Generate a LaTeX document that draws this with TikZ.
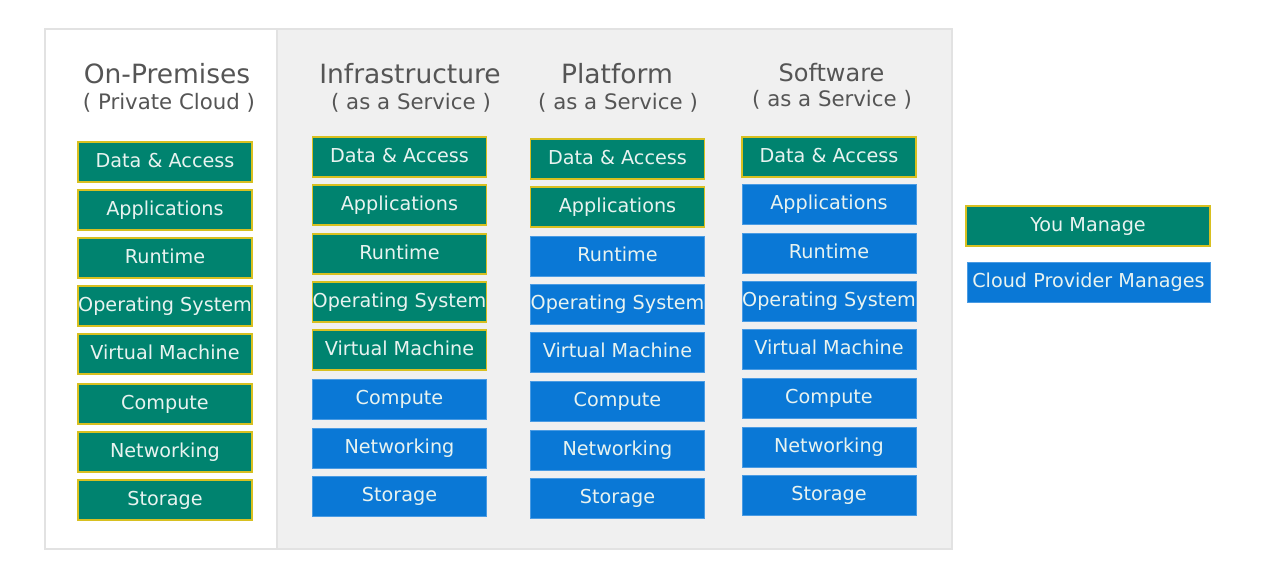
\documentclass[tikz,border=0pt]{standalone}
\usepackage{fontspec}
\setmainfont{DejaVu Sans}
\definecolor{mgreen}{HTML}{00836F}
\definecolor{mgold}{HTML}{D8C020}
\definecolor{mblue}{HTML}{0A78D6}
\definecolor{mblueedge}{HTML}{4A9BE3}
\definecolor{ptext}{HTML}{E8F3F0}
\definecolor{ttext}{HTML}{555555}
\definecolor{panelgray}{HTML}{F0F0F0}
\definecolor{paneledge}{HTML}{E2E2E2}
\begin{document}
\begin{tikzpicture}[x=1pt,y=-1pt,
  layer/.style={minimum width=174pt, minimum height=40pt, inner sep=0pt,
    font=\fontsize{19.2}{22}\selectfont, text=ptext, text height=14pt, text depth=4pt},
  you/.style={layer, fill=mgreen, draw=mgold, line width=1.2pt},
  prov/.style={layer, fill=mblue, draw=mblueedge, line width=0.8pt},
  title/.style={font=\fontsize{26.5}{30}\selectfont, text=ttext, inner sep=0pt, anchor=base},
  subtitle/.style={font=\fontsize{21.3}{25}\selectfont, text=ttext, inner sep=0pt, anchor=base}]

% canvas
\useasboundingbox[fill=white] (0,0) rectangle (1286,584);

% panels
\draw[paneledge, line width=1.5pt, fill=white] (45,29) rectangle (277,549);
\draw[paneledge, line width=1.5pt, fill=panelgray] (277,29) rectangle (952,549);

% headings
\node[title] (h1) at (167,83) {On-Premises};
\node[subtitle] (s1) at (169,109) {( Private Cloud )};
\node[title] (h2) at (410,83) {Infrastructure};
\node[subtitle] (s2) at (411,109) {( as a Service )};
\node[title] (h3) at (617,83) {Platform};
\node[subtitle] (s3) at (618,109) {( as a Service )};
\node[title, font=\fontsize{24}{28}\selectfont] (h4) at (831.5,81) {Software};
\node[subtitle] (s4) at (832,106) {( as a Service )};

% On-Premises stack
\node[you] (a1) at (165,162) {Data \& Access};
\node[you] (a2) at (165,210) {Applications};
\node[you] (a3) at (165,258) {Runtime};
\node[you] (a4) at (165,306) {Operating System};
\node[you] (a5) at (165,354) {Virtual Machine};
\node[you] (a6) at (165,404) {Compute};
\node[you] (a7) at (165,452) {Networking};
\node[you] (a8) at (165,500) {Storage};

% IaaS stack
\node[you]  (b1) at (399.5,157) {Data \& Access};
\node[you]  (b2) at (399.5,205) {Applications};
\node[you]  (b3) at (399.5,254) {Runtime};
\node[you]  (b4) at (399.5,302) {Operating System};
\node[you]  (b5) at (399.5,350) {Virtual Machine};
\node[prov] (b6) at (399.5,399) {Compute};
\node[prov] (b7) at (399.5,448) {Networking};
\node[prov] (b8) at (399.5,496) {Storage};

% PaaS stack
\node[you]  (c1) at (617.5,159) {Data \& Access};
\node[you]  (c2) at (617.5,207) {Applications};
\node[prov] (c3) at (617.5,256) {Runtime};
\node[prov] (c4) at (617.5,304) {Operating System};
\node[prov] (c5) at (617.5,352) {Virtual Machine};
\node[prov] (c6) at (617.5,401) {Compute};
\node[prov] (c7) at (617.5,450) {Networking};
\node[prov] (c8) at (617.5,498) {Storage};

% SaaS stack
\node[you]  (d1) at (829,157) {Data \& Access};
\node[prov] (d2) at (829,204) {Applications};
\node[prov] (d3) at (829,253) {Runtime};
\node[prov] (d4) at (829,301) {Operating System};
\node[prov] (d5) at (829,349) {Virtual Machine};
\node[prov] (d6) at (829,398) {Compute};
\node[prov] (d7) at (829,447) {Networking};
\node[prov] (d8) at (829,495) {Storage};

% legend
\node[you, minimum width=244pt]  (lg1) at (1088,226) {You Manage};
\node[prov, minimum width=243pt] (lg2) at (1088.5,282) {Cloud Provider Manages};
\end{tikzpicture}
\end{document}
